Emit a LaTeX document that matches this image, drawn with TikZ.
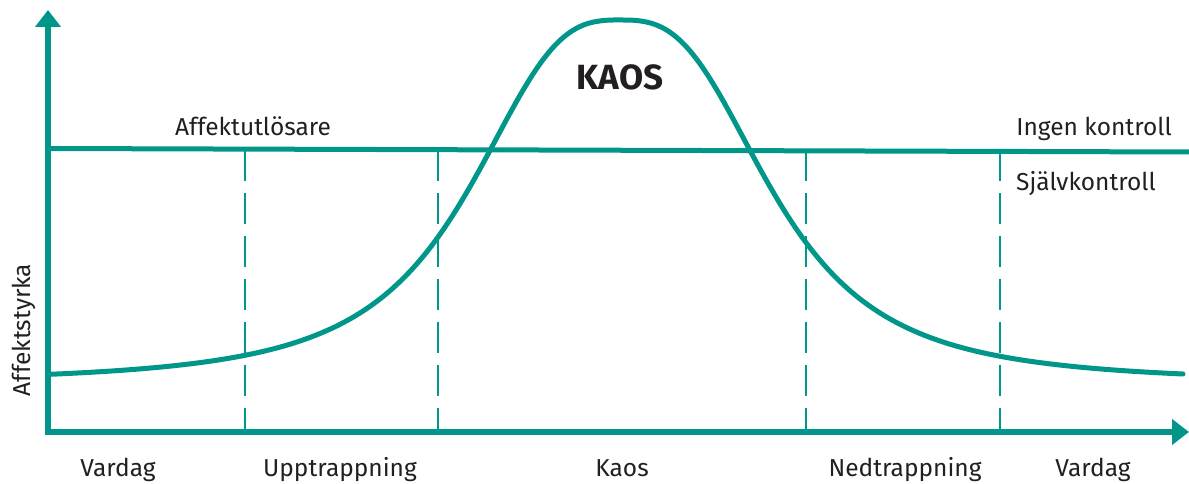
\documentclass[tikz,border=0pt]{standalone}
\usepackage{fontspec}
\setmainfont{Fira Sans}
\usetikzlibrary{arrows.meta, positioning, calc}
\definecolor{kaosteal}{HTML}{00968A}
\definecolor{textgray}{HTML}{231F20}

\begin{document}
\begin{tikzpicture}[x=1pt, y=1pt,
  axis/.style={line width=6pt, kaosteal},
  curve/.style={line width=5pt, kaosteal, line cap=round},
  guide/.style={line width=2pt, kaosteal, dash pattern=on 31pt off 12pt},
  lbl/.style={font=\fontsize{24.5}{28}\selectfont, text=textgray, inner sep=0pt}]
  \useasboundingbox (0,0) rectangle (1189,484);

  % axes
  \coordinate (O) at (48,52);
  \coordinate (ytop) at (48,474);
  \coordinate (xend) at (1189,52);
  \draw[axis, {Triangle[width=25pt,length=17pt]}-{Triangle[width=25pt,length=17pt]}]
    (ytop) -- (O) -- (xend);

  % control threshold
  \coordinate (thl) at (48,335.5);
  \coordinate (thr) at (1189,332);
  \draw[line width=5pt, kaosteal] (thl) -- (thr);

  % phase borders
  \foreach \px in {245,438,806,1000}
    \draw[guide] (\px,334) -- (\px,52);

  % affect curve
  \draw[curve] plot[domain=48:1183, samples=240, smooth]
    (\x, {101 + 363/(1+((abs(\x-620)+0.01)/158.7)^2.9)});

  % labels
  \node[lbl, anchor=base] (vardag1) at (118,7) {Vardag};
  \node[lbl, anchor=base] (upp) at (340,7) {Upptrappning};
  \node[lbl, anchor=base] (kaos) at (622,7) {Kaos};
  \node[lbl, anchor=base] (ned) at (905,7) {Nedtrappning};
  \node[lbl, anchor=base] (vardag2) at (1093,7) {Vardag};

  \node[lbl, anchor=base] (trigger) at (253,348) {Affektutlösare};
  \node[lbl, anchor=base] (nocontrol) at (1094,348) {Ingen kontroll};
  \node[lbl, anchor=base west] (selfcontrol) at (1016,293) {Självkontroll};
  \node[lbl, anchor=base, font=\fontsize{35}{40}\selectfont\bfseries] (title) at (620,394) {KAOS};
  \node[lbl, anchor=base, rotate=90] (ylabel) at (30,154) {Affektstyrka};
\end{tikzpicture}
\end{document}
